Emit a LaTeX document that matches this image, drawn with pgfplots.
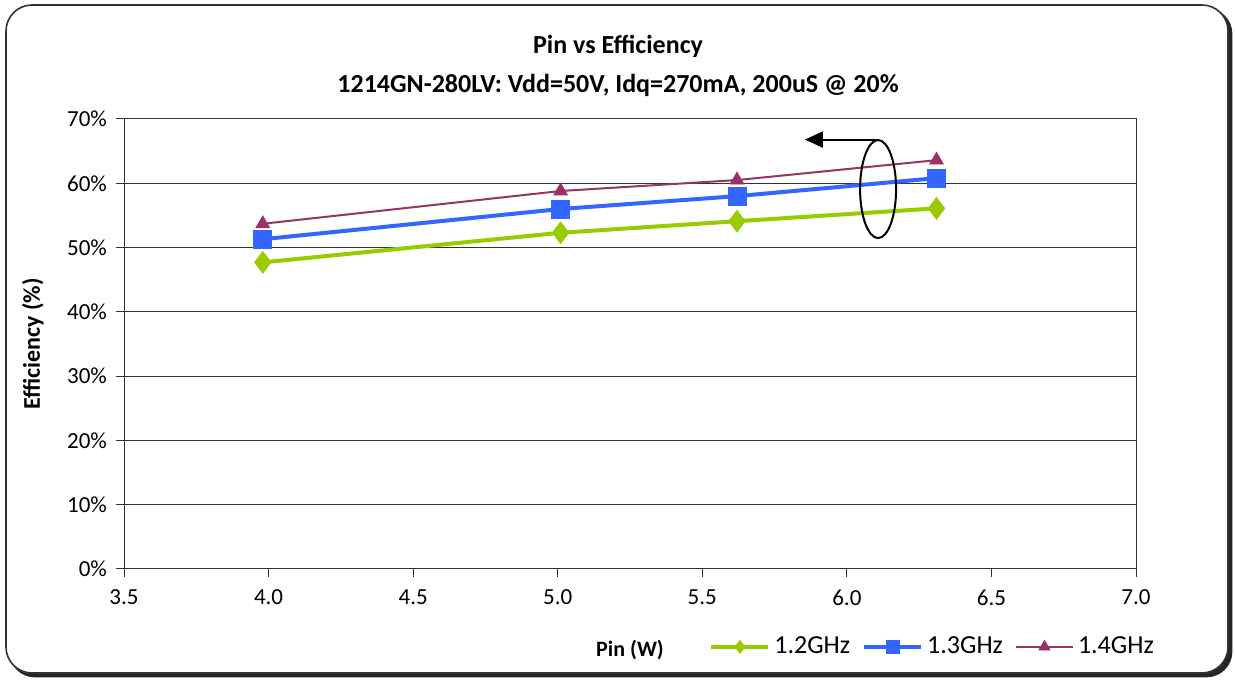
\documentclass[border=0pt]{standalone}
\usepackage{pgfplots}
\pgfplotsset{compat=1.18}
\usepackage{fontspec}
\setmainfont{Carlito}
\usetikzlibrary{arrows.meta}

\definecolor{c12}{HTML}{99CC00}
\definecolor{c13}{HTML}{3366FF}
\definecolor{c14}{HTML}{993366}

\begin{document}
\begin{tikzpicture}
% page bounds
\path (0,0) rectangle (617.5pt,339.5pt);
% chart frame with shadow
\fill[black!85, rounded corners=13pt] (4.5pt,0.8pt) rectangle (616.2pt,335.5pt);
\draw[black!80, line width=0.8pt, fill=white, rounded corners=13pt] (3pt,3pt) rectangle (614pt,337pt);

\node[font=\fontsize{13}{15}\selectfont\bfseries] at (309pt,316.5pt) {Pin vs Efficiency};
\node[font=\fontsize{13}{15}\selectfont\bfseries] at (309pt,297pt) {1214GN-280LV: Vdd=50V, Idq=270mA, 200uS @ 20\%};

\begin{axis}[
  at={(62pt,55pt)}, anchor=south west,
  scale only axis,
  width=506pt, height=225pt,
  xmin=3.5, xmax=7.0,
  ymin=0, ymax=70,
  xtick={3.5,4,4.5,5,5.5,6,6.5,7},
  ytick={0,10,20,30,40,50,60,70},
  xticklabel style={/pgf/number format/.cd, fixed, fixed zerofill, precision=1},
  yticklabel={\pgfmathprintnumber{\tick}\%},
  /pgf/number format/assume math mode=true,
  tick label style={font=\fontsize{11.5}{13}\selectfont, black},
  ymajorgrids,
  major grid style={black!80, line width=0.5pt},
  axis line style={black!80, line width=0.5pt},
  tick style={black!80, line width=0.5pt},
  tick align=outside,
  tick pos=left,
  major tick length=4pt,
  xticklabel shift=3pt,
  yticklabel shift=1pt,
  xlabel={Pin (W)},
  xlabel style={font=\fontsize{11}{13}\selectfont\bfseries, at={(rel axis cs:0.5,-0.18)}, anchor=center},
  ylabel={Efficiency (\%)},
  ylabel style={font=\fontsize{12}{14}\selectfont\bfseries, at={(rel axis cs:-0.09,0.5)}, anchor=center, rotate=0},
  legend columns=3,
  legend style={at={(rel axis cs:0.80,-0.173)}, anchor=center, draw=none, fill=none,
    font=\fontsize{13}{15}\selectfont,
    /tikz/every even column/.append style={column sep=4pt}},
  legend image code/.code={
    \draw[mark repeat=2, mark phase=2, mark size=3.3pt] plot coordinates {(0pt,0pt) (14.25pt,0pt) (28.5pt,0pt)};
  },
  clip=false,
]
\addplot[c12, line width=2pt, mark=diamond*, mark size=5.5pt, mark options={fill=c12, draw=c12, line width=0.3pt}]
  coordinates {(3.98,47.7) (5.01,52.3) (5.62,54.1) (6.31,56.1)};
\addlegendentry{1.2GHz}
\addplot[c13, line width=2pt, mark=square*, mark size=4.5pt, mark options={fill=c13, draw=c13, line width=0.3pt}]
  coordinates {(3.98,51.3) (5.01,56.0) (5.62,58.0) (6.31,60.8)};
\addlegendentry{1.3GHz}
\addplot[c14, line width=1pt, mark=triangle*, mark size=4pt, mark options={fill=c14, draw=c14, line width=0.3pt}]
  coordinates {(3.98,53.7) (5.01,58.8) (5.62,60.5) (6.31,63.6)};
\addlegendentry{1.4GHz}

% annotation: ellipse and arrow
\draw[black, line width=1pt] (axis cs:6.108,59.1) ellipse [x radius=9pt, y radius=24.5pt];
\draw[black, line width=1pt, -{Triangle[length=9pt, width=8pt]}] (axis cs:6.11,66.8) -- (axis cs:5.855,66.8);
\end{axis}
\end{tikzpicture}
\end{document}
